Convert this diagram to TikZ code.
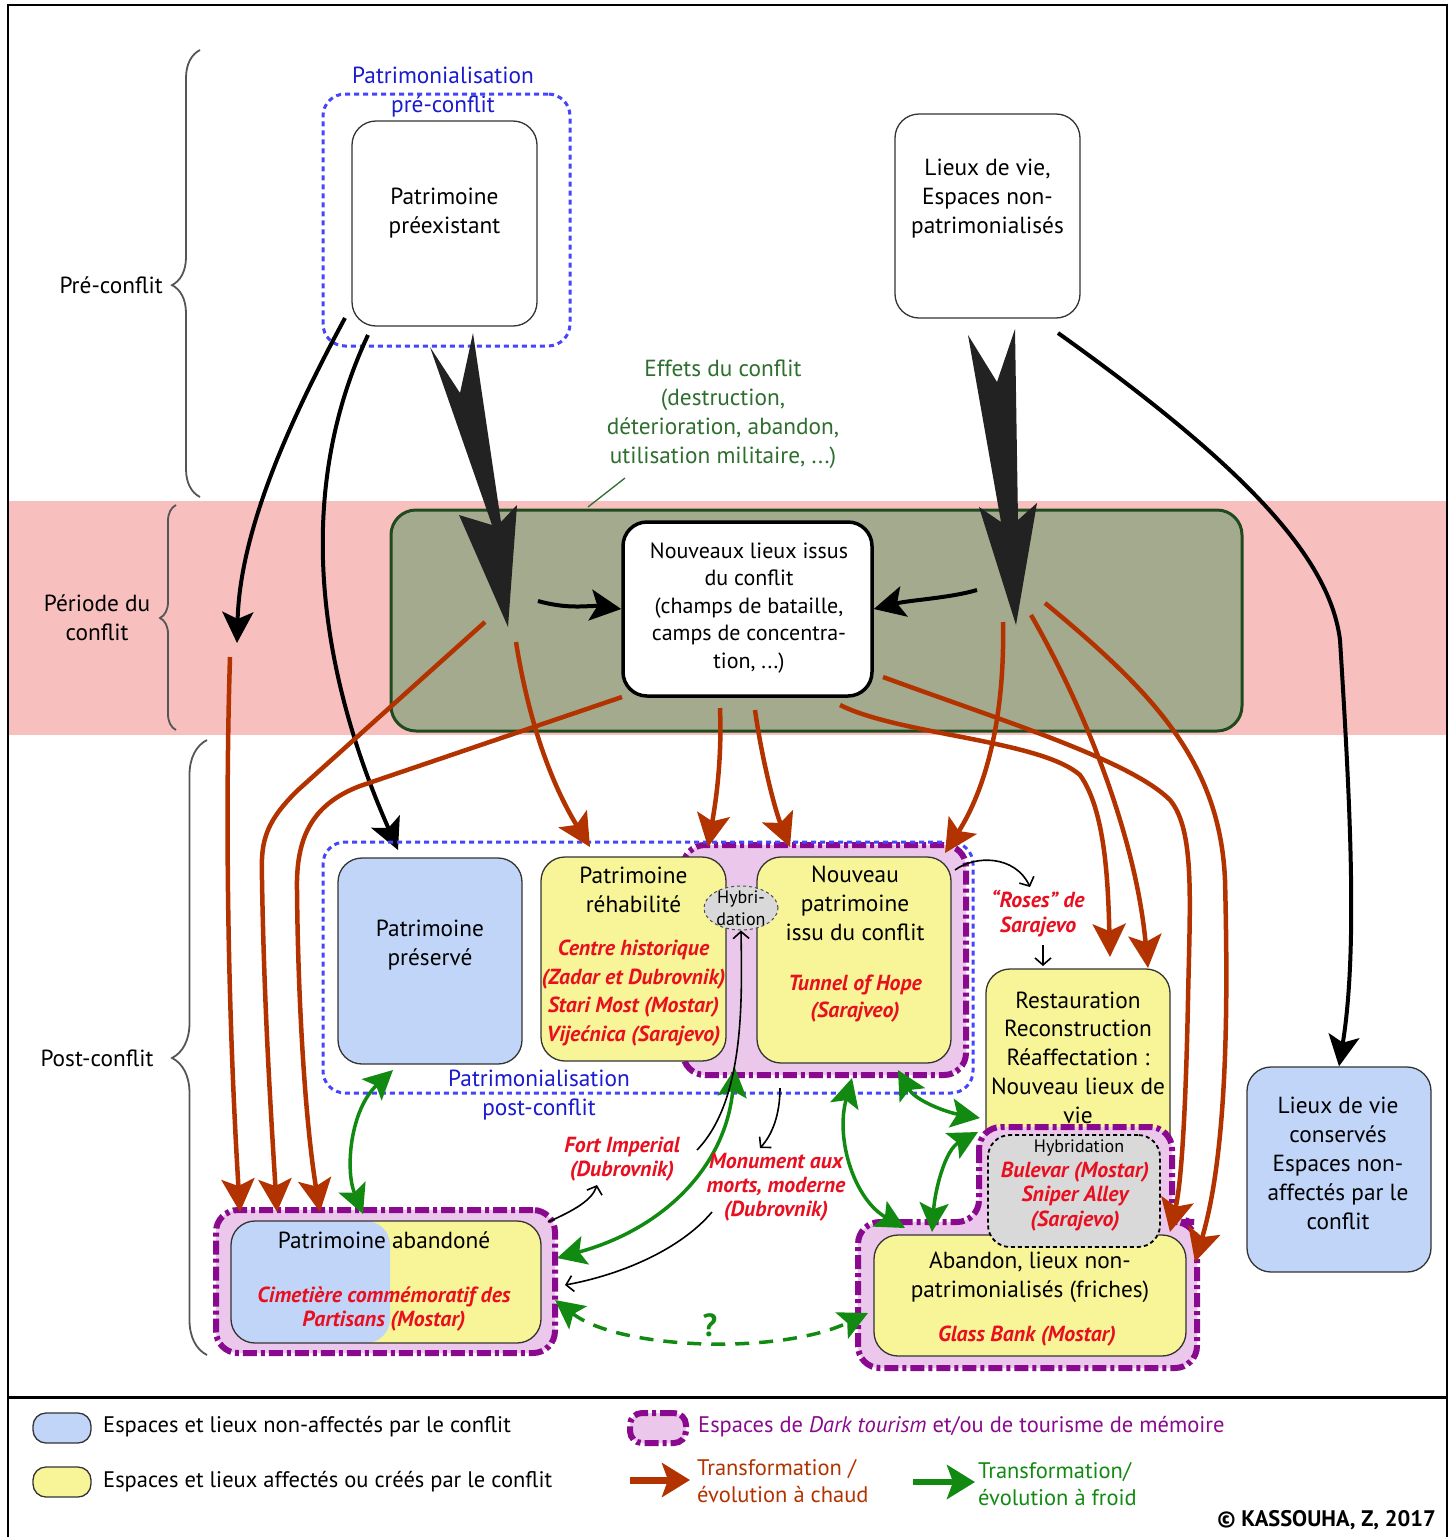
\documentclass[tikz,border=0pt]{standalone}
\usepackage{fontspec}
\setmainfont{PT Sans}
\usetikzlibrary{arrows.meta,decorations.pathreplacing,shapes.geometric}
\definecolor{pinkband}{HTML}{F8BFBF}
\definecolor{olivec}{HTML}{A4AA8E}
\definecolor{darkgr}{HTML}{1E4A1E}
\definecolor{efftext}{HTML}{2E6E2E}
\definecolor{dotblue}{HTML}{4545FF}
\definecolor{bluetxt}{HTML}{1A1ACF}
\definecolor{lblue}{HTML}{C1D5F8}
\definecolor{lyellow}{HTML}{F7F597}
\definecolor{ppink}{HTML}{EBC7EB}
\definecolor{purp}{HTML}{8A0A8F}
\definecolor{hotc}{HTML}{B33300}
\definecolor{redtxt}{HTML}{E81020}
\definecolor{coldc}{HTML}{128A12}
\definecolor{grayh}{HTML}{D9D9D9}
\definecolor{dartc}{HTML}{222222}
\definecolor{bracec}{HTML}{555555}
\newcommand{\mfont}{\fontsize{23.3}{29}\selectfont}
\newcommand{\nfont}{\fontsize{22}{27.5}\selectfont}
\newcommand{\rfont}{\fontsize{21.8}{28.5}\selectfont\bfseries\itshape}
\newcommand{\rrfont}{\fontsize{21.8}{24.5}\selectfont\bfseries\itshape}
\newcommand{\sfont}{\fontsize{18}{22}\selectfont}
\newcommand{\lfont}{\fontsize{22.5}{27}\selectfont}
\begin{document}
\begin{tikzpicture}[x=1pt,y=-1pt,
  box/.style={draw=black!80, line width=1.3pt, rounded corners=24pt, inner sep=0pt},
  whitebox/.style={box, fill=white},
  bluebox/.style={box, fill=lblue},
  yelbox/.style={box, fill=lyellow},
  dotbox/.style={draw=dotblue, line width=3pt, dash pattern=on 5pt off 4pt, rounded corners=22pt, inner sep=0pt},
  purplebox/.style={draw=purp, fill=ppink, line width=6pt, dash pattern=on 14pt off 4pt on 4pt off 4pt, rounded corners=22pt, inner sep=0pt},
  txt/.style={align=center, font=\mfont, inner sep=0pt},
  ltxt/.style={align=left, font=\lfont, inner sep=0pt, anchor=west},
  rtxt/.style={align=center, font=\rfont, text=redtxt, inner sep=0pt},
  rrtxt/.style={align=center, font=\rrfont, text=redtxt, inner sep=0pt},
  hot/.style={draw=hotc, line width=4.5pt, -{Stealth[length=33pt,width=33pt,inset=7pt]}},
  cold/.style={draw=coldc, line width=3.5pt, {Stealth[length=29pt,width=29pt,inset=6pt]}-{Stealth[length=29pt,width=29pt,inset=6pt]}},
  heavy/.style={draw=black, line width=4pt, -{Stealth[length=31pt,width=31pt,inset=7pt]}},
  thinarr/.style={draw=black, line width=1.6pt, -{Straight Barb[length=7pt,width=16pt]}},
  bracest/.style={draw=bracec, line width=1.8pt, decorate},
]
\useasboundingbox (0,0) rectangle (1455,1537);
% background
\fill[white] (0,0) rectangle (1455,1537);
\fill[pinkband] (8,501) rectangle (1447,735);
\draw[line width=1.5pt] (8,5) rectangle (1447,1545);
\draw[line width=3pt] (8,1397) -- (1447,1397);

% braces
\draw[bracest, decoration={brace, amplitude=28pt, aspect=0.474}] (200,497) -- (200,50);
\draw[bracest, decoration={brace, amplitude=16pt, aspect=0.498}] (176,730) -- (176,505);
\draw[bracest, decoration={brace, amplitude=35pt, aspect=0.483}] (207,1355) -- (207,740);
\node[txt, anchor=east] (lpre) at (163,285) {Pré-conflit};
\node[txt] (lper) at (97,618) {Période du\\conflit};
\node[txt] (lpost) at (97,1058) {Post-conflit};

% pre-conflict
\node[dotbox, minimum width=247pt, minimum height=252pt] (predot) at (446.5,220) {};
\node[whitebox, minimum width=185pt, minimum height=205pt] (pre) at (444.5,223.5) {};
\node[txt] (pretxt) at (444.5,213) {Patrimoine\\préexistant};
\node[txt, text=bluetxt] (prelab) at (443,92) {Patrimonialisation\\pré-conflit};
\node[whitebox, minimum width=185pt, minimum height=204pt] (lieux) at (987.5,216) {};
\node[txt] (lieuxtxt) at (987.5,199) {Lieux de vie,\\Espaces non-\\patrimonialisés};

% effects
\node[txt, text=efftext] (eff) at (723,414) {Effets du conflit\\(destruction,\\déterioration, abandon,\\utilisation militaire, ...)};
\coordinate (effA) at (588,507);
\coordinate (effB) at (625,478);
\draw[efftext, line width=1.3pt] (effA) -- (effB);

% conflict box
\node[draw=darkgr, fill=olivec, line width=3pt, rounded corners=25pt, minimum width=851pt, minimum height=221pt] (conf) at (816.5,620.5) {};
\node[draw=black, fill=white, line width=3.5pt, rounded corners=24pt, minimum width=249pt, minimum height=174pt] (nouv) at (747.5,609) {};
\node[align=center, font=\nfont, inner sep=0pt] (nouvtxt) at (749,608) {Nouveaux lieux issus\\du conflit\\(champs de bataille,\\camps de concentra-\\tion, ...)};

% darts
\fill[dartc] (430,347) -- (460,393) -- (473,333) -- (501,522) -- (517,505) -- (508,627) -- (459,515) -- (492,525) -- cycle;
\fill[dartc] (968,335) -- (997,382) -- (1015,329) -- (1018,520) -- (1037,503) -- (1016,625) -- (979,507) -- (1001,522) -- cycle;

% black thick arrows
\coordinate (k4s) at (538,601);
\coordinate (k5s) at (977,590);
\draw[heavy] (k4s) .. controls (570,610) and (590,605) .. (nouv.west);
\draw[heavy] (k5s) .. controls (950,598) and (910,600) .. (nouv.east);
\coordinate (k1s) at (345,318);
\coordinate (k1e) at (237,643);
\draw[heavy] (k1s) .. controls (290,420) and (240,530) .. (k1e);
\coordinate (k2s) at (368,335);
\coordinate (k2e) at (398,850);
\draw[heavy] (k2s) .. controls (300,480) and (310,650) .. (k2e);

% ===== post-conflict
\node[purplebox, minimum width=283pt, minimum height=230pt] (dt1) at (824.5,960) {};
\node[dotbox, minimum width=650pt, minimum height=251pt] (postdot) at (648,967.5) {};
\node[bluebox, minimum width=184pt, minimum height=206pt] (pres) at (430,961) {};
\node[txt] (prestxt) at (430,945.5) {Patrimoine\\préservé};
\node[yelbox, minimum width=185pt, minimum height=204pt] (rehab) at (633.5,959) {};
\node[txt] (rehabtxt) at (633.5,890) {Patrimoine\\réhabilité};
\node[rtxt] (rehabred) at (633.5,993) {Centre historique\\(Zadar et Dubrovnik)\\Stari Most (Mostar)\\Vijećnica (Sarajevo)};
\node[yelbox, minimum width=194pt, minimum height=206pt] (npat) at (854,960) {};
\node[txt] (npattxt) at (855,903.5) {Nouveau\\patrimoine\\issu du conflit};
\node[rtxt, font=\fontsize{21.8}{27}\selectfont\bfseries\itshape] (npatred) at (855,998.5) {Tunnel of Hope\\(Sarajveo)};
\node[ellipse, draw=black!70, dashed, line width=1pt, fill=grayh, minimum width=74pt, minimum height=44pt, inner sep=0pt] (hyb1) at (741,908) {};
\node[align=center, font=\sfont, inner sep=0pt] (hyb1txt) at (741,908) {Hybri-\\dation};
\node[txt, text=bluetxt] (postlab) at (539,1095) {Patrimonialisation\\post-conflit};

% Roses
\node[rtxt, font=\fontsize{21.8}{25}\selectfont\bfseries\itshape] (roses) at (1038,913.5) {“Roses” de\\Sarajevo};

% restauration & abandon
\node[yelbox, minimum width=184pt, minimum height=201pt] (resto) at (1078,1069.5) {};
\node[txt, font=\fontsize{23.3}{28.75}\selectfont] (restotxt) at (1078,1057.5) {Restauration\\Reconstruction\\Réaffectation :\\Nouveau lieux de\\vie};
\path[purplebox] (979,1127) -- (979,1222) -- (858,1222) -- (858,1368) -- (1197,1368) -- (1197,1222) -- (1172,1222) -- (1172,1127) -- cycle;
\node[yelbox, minimum width=312pt, minimum height=121pt] (aband2) at (1030,1295.5) {};
\node[txt] (aband2txt) at (1030,1277.5) {Abandon, lieux non-\\patrimonialisés (friches)};
\node[rtxt] (aband2red) at (1027,1336) {Glass Bank (Mostar)};
\node[draw=black, fill=grayh, line width=1.8pt, dash pattern=on 4pt off 3pt, rounded corners=22pt, minimum width=172pt, minimum height=112pt] (hyb2) at (1074,1191) {};
\node[align=center, font=\sfont, inner sep=0pt] (hyb2txt) at (1079,1148) {Hybridation};
\node[rrtxt] (hyb2red) at (1075,1196.5) {Bulevar (Mostar)\\Sniper Alley\\(Sarajevo)};

% conserves
\node[bluebox, minimum width=184pt, minimum height=205pt] (cons) at (1339,1169.5) {};
\node[txt] (constxt) at (1338,1163.5) {Lieux de vie\\conservés\\Espaces non-\\affectés par le\\conflit};

% abandone
\node[purplebox, minimum width=339pt, minimum height=143pt] (dt3) at (385.5,1281.5) {};
\node[box, fill=lyellow, minimum width=310pt, minimum height=122pt,
  path picture={\fill[lblue] (path picture bounding box.north west) rectangle ([xshift=159pt]path picture bounding box.south west);}] (aband) at (386,1282) {};
\node[txt] (abandtxt) at (384,1240) {Patrimoine abandoné};
\node[rrtxt] (abandred) at (384,1309) {Cimetière commémoratif des\\Partisans (Mostar)};

% right black arrow
\coordinate (k3s) at (1058,333);
\draw[heavy] (k3s) .. controls (1250,470) and (1330,560) .. (1340,640) .. controls (1350,800) and (1358,950) .. (cons.north);

% red arrows
\coordinate (ra1) at (230,657);
\coordinate (ra2) at (485,622);
\coordinate (ra3) at (622,697);
\coordinate (ra4) at (516,642);
\coordinate (ra5) at (720,708);
\coordinate (ra6) at (755,710);
\coordinate (ra7) at (1003,622);
\coordinate (ra8) at (840,705);
\coordinate (ra9) at (1031,615);
\coordinate (ra10) at (883,677);
\coordinate (ra11) at (1045,603);
\coordinate (ea1) at (240,1212);
\coordinate (ea2) at (277,1212);
\coordinate (ea3) at (320,1212);
\coordinate (ea4) at (590,847);
\coordinate (ea5) at (708,847);
\coordinate (ea6) at (790,847);
\coordinate (ea7) at (945,853);
\coordinate (ea8) at (1110,957);
\coordinate (ea9) at (1148,968);
\coordinate (ea10) at (1170,1232);
\coordinate (ea11) at (1195,1262);
\draw[hot] (ra1) .. controls (224,850) and (230,1050) .. (ea1);
\draw[hot] (ra2) -- (298,790) .. controls (262,825) and (261,845) .. (262,880) .. controls (264,1000) and (270,1100) .. (ea2);
\draw[hot] (ra3) -- (360,786) .. controls (310,805) and (296,840) .. (297,890) .. controls (298,1000) and (305,1120) .. (ea3);
\draw[hot] (ra4) .. controls (530,730) and (555,790) .. (ea4);
\draw[hot] (ra5) .. controls (722,760) and (716,800) .. (ea5);
\draw[hot] (ra6) .. controls (762,760) and (775,810) .. (ea6);
\draw[hot] (ra7) .. controls (1005,720) and (985,790) .. (ea7);
\draw[hot] (ra8) .. controls (900,735) and (1040,740) .. (1080,775) .. controls (1105,810) and (1108,880) .. (ea8);
\draw[hot] (ra9) .. controls (1080,700) and (1135,830) .. (ea9);
\draw[hot] (ra10) .. controls (1000,720) and (1130,760) .. (1170,800) .. controls (1195,830) and (1190,900) .. (1188,1000) .. controls (1186,1100) and (1182,1180) .. (ea10);
\draw[hot] (ra11) .. controls (1150,690) and (1220,760) .. (1225,880) .. controls (1228,1000) and (1228,1150) .. (ea11);

% green arrows
\coordinate (g1a) at (393,1070); \coordinate (g1b) at (363,1214);
\coordinate (g2a) at (735,1068); \coordinate (g2b) at (557,1258);
\coordinate (g3a) at (852,1078); \coordinate (g3b) at (905,1228);
\coordinate (g4a) at (898,1070); \coordinate (g4b) at (980,1118);
\coordinate (g5a) at (978,1132); \coordinate (g5b) at (932,1232);
\coordinate (g6a) at (555,1300); \coordinate (g6b) at (868,1313);
\draw[cold] (g1a) .. controls (350,1110) and (345,1170) .. (g1b);
\draw[cold] (g2a) .. controls (725,1170) and (660,1230) .. (g2b);
\draw[cold] (g3a) .. controls (835,1140) and (855,1200) .. (g3b);
\draw[cold] (g4a) .. controls (915,1100) and (945,1112) .. (g4b);
\draw[cold] (g5a) .. controls (945,1150) and (935,1190) .. (g5b);
\draw[cold, dash pattern=on 14pt off 10pt] (g6a) .. controls (620,1350) and (780,1355) .. (g6b);
\node[font=\fontsize{32}{32}\selectfont\bfseries, text=coldc, inner sep=0pt] (qm) at (710,1325) {?};

% thin black arrows
\coordinate (t1a) at (955,870); \coordinate (t1b) at (1030,887);
\coordinate (t2a) at (1043,945); \coordinate (t2b) at (1043,966);
\coordinate (t3a) at (548,1222); \coordinate (t3b) at (597,1185);
\coordinate (t4a) at (697,1150);
\coordinate (t5a) at (780,1088); \coordinate (t5b) at (760,1148);
\coordinate (t6a) at (712,1212); \coordinate (t6b) at (565,1285);
\draw[thinarr] (t1a) .. controls (975,855) and (1015,855) .. (t1b);
\draw[thinarr] (t2a) -- (t2b);
\draw[thinarr] (t3a) .. controls (575,1210) and (592,1200) .. (t3b);
\draw[thinarr] (t4a) .. controls (745,1100) and (742,1000) .. (hyb1.south);
\draw[thinarr] (t5a) .. controls (780,1115) and (772,1135) .. (t5b);
\draw[thinarr] (t6a) .. controls (680,1250) and (620,1275) .. (t6b);

\node[rrtxt, font=\fontsize{21.8}{24}\selectfont\bfseries\itshape] (fort) at (622,1159) {Fort Imperial\\(Dubrovnik)};
\node[rrtxt, font=\fontsize{21.8}{24}\selectfont\bfseries\itshape] (monu) at (776,1187) {Monument aux\\morts, moderne\\(Dubrovnik)};

% legend
\node[box, fill=lblue, rounded corners=13pt, minimum width=58pt, minimum height=30pt] (lg1) at (62,1428) {};
\node[ltxt] (lt1) at (103,1427) {Espaces et lieux non-affectés par le conflit};
\node[box, fill=lyellow, rounded corners=13pt, minimum width=58pt, minimum height=30pt] (lg2) at (62,1482) {};
\node[ltxt] (lt2) at (103,1482) {Espaces et lieux affectés ou créés par le conflit};
\node[purplebox, rounded corners=12pt, minimum width=56pt, minimum height=30pt] (lg3) at (658,1428) {};
\node[ltxt, text=purp] (lt3) at (698,1427) {Espaces de \textit{Dark tourism} et/ou de tourisme de mémoire};
\coordinate (lr1) at (630,1480); \coordinate (lr2) at (690,1480);
\draw[draw=hotc, line width=7pt, -{Stealth[length=28pt,width=34pt,inset=6pt]}] (lr1) -- (lr2);
\node[ltxt, text=hotc] (lt4) at (697,1481) {Transformation /\\évolution à chaud};
\coordinate (lg1a) at (913,1482); \coordinate (lg1b) at (975,1482);
\draw[draw=coldc, line width=6pt, -{Stealth[length=28pt,width=34pt,inset=6pt]}] (lg1a) -- (lg1b);
\node[ltxt, text=coldc] (lt5) at (978,1484) {Transformation/\\évolution à froid};
\node[txt, anchor=east, font=\fontsize{22.5}{25}\selectfont\bfseries] (copy) at (1436,1520) {© KASSOUHA, Z, 2017};
\end{tikzpicture}
\end{document}
